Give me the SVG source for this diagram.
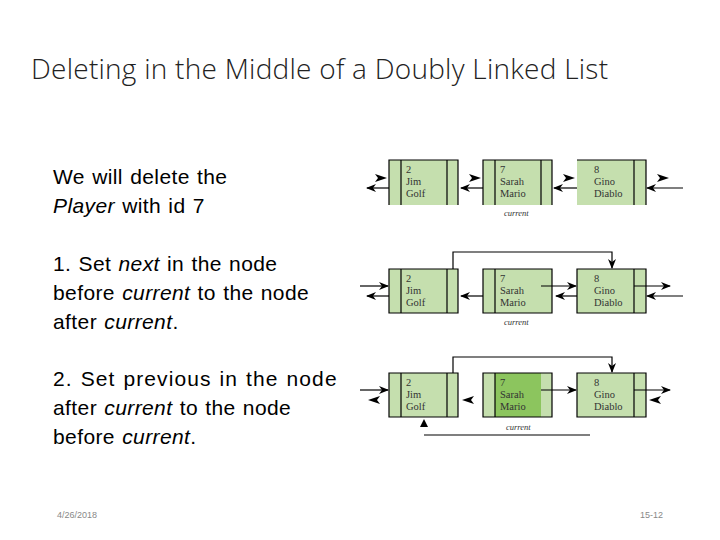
<svg xmlns="http://www.w3.org/2000/svg" width="720" height="540" viewBox="0 0 720 540">
<style>
.t{font-family:"Liberation Sans",Arial,sans-serif;font-size:21px;letter-spacing:0.4px;word-spacing:1px;fill:#000}
.n{font-family:"Liberation Serif",serif;font-size:10.5px;fill:#333}
.c{font-family:"Liberation Serif",serif;font-size:8.5px;font-style:italic;fill:#333}
.box{fill:#c5dfae;stroke:none}
.ln{stroke:#000;stroke-width:1.2;fill:none}
.f{font-family:"Liberation Sans",Arial,sans-serif;font-size:9px;fill:#888}
</style>
<defs>
<marker id="a" markerWidth="10" markerHeight="8" refX="9" refY="4" orient="auto" markerUnits="userSpaceOnUse"><path d="M0,0 L10,4 L0,8 L3,4 Z" fill="#000"/></marker>
<path id="hr" d="M-6,-4 L6,0 L-6,4 L-3,0 Z" fill="#000"/>
<path id="hl" d="M6,-4 L-6,0 L6,4 L3,0 Z" fill="#000"/>
</defs>
<rect width="720" height="540" fill="#fff"/>
<text x="31" y="79" style="font-family:'Open Sans',sans-serif;font-size:28px;font-weight:300" fill="#222" textLength="577">Deleting in the Middle of a Doubly Linked List</text>
<g id="text">
<text class="t" x="53" y="184">We will delete the</text>
<text class="t" x="53" y="213"><tspan font-style="italic">Player</tspan> with id 7</text>
<text class="t" x="53" y="271">1.  Set <tspan font-style="italic">next</tspan> in the node</text>
<text class="t" x="53" y="300">before <tspan font-style="italic">current</tspan> to the node</text>
<text class="t" x="53" y="329">after <tspan font-style="italic">current</tspan>.</text>
<text class="t" x="53" y="386" textLength="284">2. Set previous in the node</text>
<text class="t" x="53" y="415">after <tspan font-style="italic">current</tspan> to the node</text>
<text class="t" x="53" y="444">before <tspan font-style="italic">current</tspan>.</text>
</g>
<g id="r1n1"><rect class="box" x="389" y="160" width="69" height="45"/><path class="ln" d="M389,205 V160 H458 V205 M401,160 V205 M447,160 V205"/>
<text class="n" x="406" y="173">2</text><text class="n" x="406" y="185">Jim</text><text class="n" x="406" y="197">Golf</text></g>
<g id="r1n2"><rect class="box" x="483" y="160" width="69" height="45"/><path class="ln" d="M483,205 V160 H552 V205 M495,160 V205 M541,160 V205"/>
<text class="n" x="500" y="173">7</text><text class="n" x="500" y="185">Sarah</text><text class="n" x="500" y="197">Mario</text></g>
<g id="r1n3"><rect class="box" x="577" y="160" width="69" height="45"/><path class="ln" d="M577,160 H646 V205 M634,160 V205"/>
<text class="n" x="594" y="173">8</text><text class="n" x="594" y="185">Gino</text><text class="n" x="594" y="197">Diablo</text></g>
<text class="c" x="504" y="216">current</text>
<g id="r2n1"><rect class="box" x="389" y="269" width="69" height="44"/><path class="ln" d="M389,269 H458 V313 H389 Z M401,269 V313 M447,269 V313"/>
<text class="n" x="406" y="282">2</text><text class="n" x="406" y="294">Jim</text><text class="n" x="406" y="306">Golf</text></g>
<g id="r2n2"><rect class="box" x="483" y="269" width="69" height="44"/><path class="ln" d="M483,269 H552 V313 H483 Z M495,269 V313"/>
<text class="n" x="500" y="282">7</text><text class="n" x="500" y="294">Sarah</text><text class="n" x="500" y="306">Mario</text></g>
<g id="r2n3"><rect class="box" x="577" y="269" width="69" height="44"/><path class="ln" d="M577,269 H646 V313 H577 Z M634,269 V313"/>
<text class="n" x="594" y="282">8</text><text class="n" x="594" y="294">Gino</text><text class="n" x="594" y="306">Diablo</text></g>
<text class="c" x="504" y="325">current</text>
<g id="r3n1"><rect class="box" x="389" y="373" width="69" height="44"/><path class="ln" d="M389,373 H458 V417 H389 Z M401,373 V417 M447,373 V417"/>
<text class="n" x="406" y="386">2</text><text class="n" x="406" y="398">Jim</text><text class="n" x="406" y="410">Golf</text></g>
<g id="r3n2"><rect class="box" x="483" y="373" width="69" height="44"/><rect x="495" y="373" width="46" height="44" fill="#8cc55e"/><path class="ln" d="M483,373 H552 V417 H483 Z M495,373 V417"/>
<text class="n" x="500" y="386" fill="#222">7</text><text class="n" x="500" y="398">Sarah</text><text class="n" x="500" y="410">Mario</text></g>
<g id="r3n3"><rect class="box" x="577" y="373" width="69" height="44"/><path class="ln" d="M577,373 H646 V417 H577 Z M634,373 V417"/>
<text class="n" x="594" y="386">8</text><text class="n" x="594" y="398">Gino</text><text class="n" x="594" y="410">Diablo</text></g>
<text class="c" x="506" y="430">current</text>
<g id="connectors">
<use href="#hr" x="381" y="178"/><use href="#hr" x="475" y="178"/><use href="#hr" x="569" y="178"/><use href="#hr" x="663" y="178"/>
<line class="ln" x1="389" y1="188" x2="367" y2="188" marker-end="url(#a)"/>
<line class="ln" x1="483" y1="188" x2="461" y2="188" marker-end="url(#a)"/>
<line class="ln" x1="577" y1="188" x2="554" y2="188" marker-end="url(#a)"/>
<line class="ln" x1="683" y1="188" x2="647" y2="188" marker-end="url(#a)"/>
<path class="ln" d="M453,269 V252 H612 V268" marker-end="url(#a)"/>
<line class="ln" x1="360" y1="286" x2="388" y2="286" marker-end="url(#a)"/>
<line class="ln" x1="389" y1="296" x2="367" y2="296" marker-end="url(#a)"/>
<line class="ln" x1="483" y1="296" x2="461" y2="296" marker-end="url(#a)"/>
<line class="ln" x1="541" y1="286" x2="576" y2="286" marker-end="url(#a)"/>
<line class="ln" x1="577" y1="296" x2="556" y2="296" marker-end="url(#a)"/>
<line class="ln" x1="634" y1="286" x2="670" y2="286" marker-end="url(#a)"/>
<line class="ln" x1="683" y1="296" x2="647" y2="296" marker-end="url(#a)"/>
<path class="ln" d="M453,373 V357 H612 V372" marker-end="url(#a)"/>
<line class="ln" x1="360" y1="390" x2="388" y2="390" marker-end="url(#a)"/>
<line class="ln" x1="541" y1="390" x2="576" y2="390" marker-end="url(#a)"/>
<line class="ln" x1="634" y1="390" x2="670" y2="390" marker-end="url(#a)"/>
<use href="#hl" x="374" y="400"/><use href="#hl" x="468" y="400"/><use href="#hl" x="655" y="400"/>
<path class="ln" d="M424,435 H590"/>
<path d="M420,427 L424,419 L428,427 Z" fill="#000"/>
</g>
<text class="f" x="57" y="518">4/26/2018</text>
<text class="f" x="640" y="518">15-12</text>
</svg>
